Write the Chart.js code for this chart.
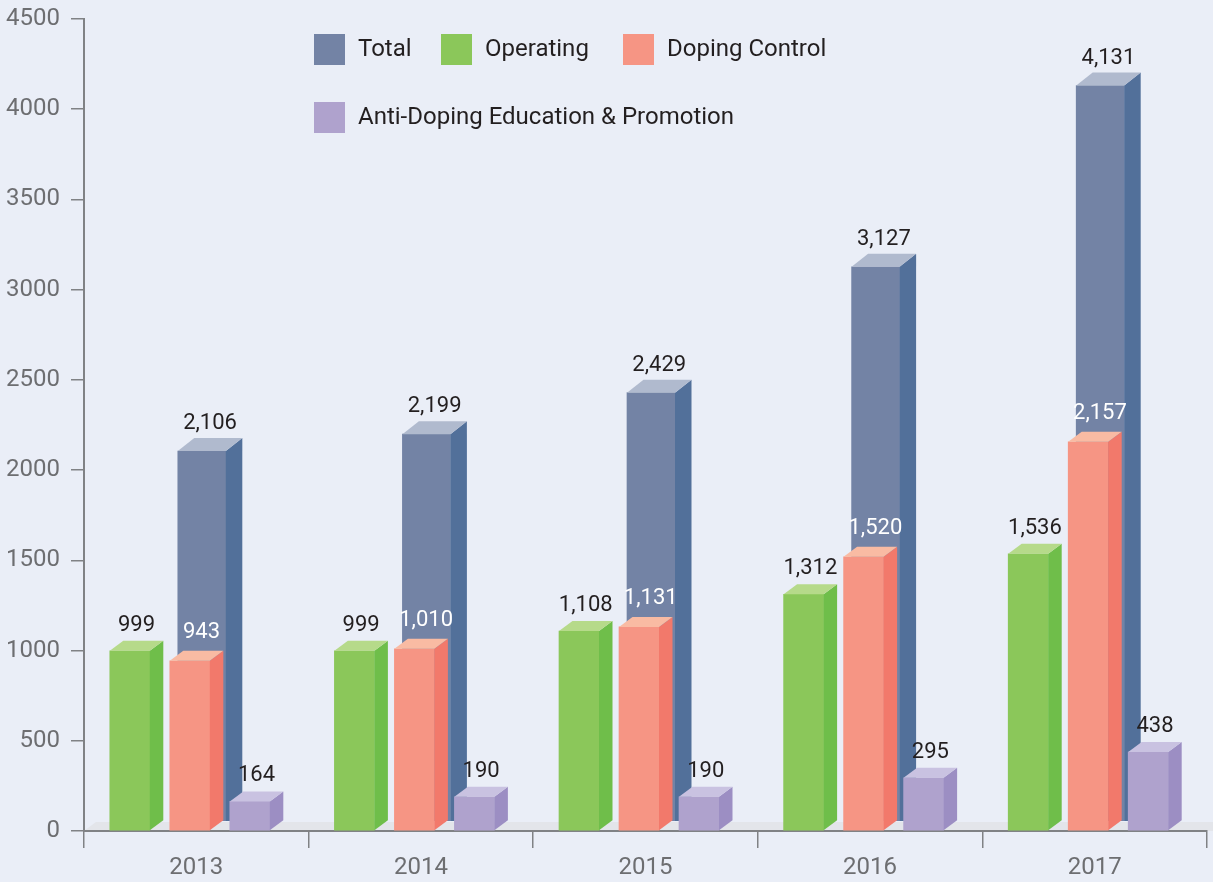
<!DOCTYPE html>
<html>
<head>
<meta charset="utf-8">
<script src="https://cdn.jsdelivr.net/npm/chart.js@4/dist/chart.umd.min.js"></script>
<style>
html,body{margin:0;padding:0;background:#EAEEF7;}
#wrap{position:relative;width:1213px;height:882px;}
canvas{display:block;}
</style>
</head>
<body>
<div id="wrap"><canvas id="c" width="1213" height="882"></canvas></div>
<script>
// ---- data ----
const categories = ['2013', '2014', '2015', '2016', '2017'];
const totalValues = [2106, 2199, 2429, 3127, 4131];
const operatingValues = [999, 999, 1108, 1312, 1536];
const dopingControlValues = [943, 1010, 1131, 1520, 2157];
const educationValues = [164, 190, 190, 295, 438];
const yTickValues = [0, 500, 1000, 1500, 2000, 2500, 3000, 3500, 4000, 4500];
const seriesLabels = ['Total', 'Operating', 'Doping Control', 'Anti-Doping Education & Promotion'];

// ---- styles ----
const FONT = "Roboto, 'DejaVu Sans', sans-serif";
const BG = '#EAEEF7';
const AXIS = '#808285';
const styles = [
  { front: '#7383A5', side: '#52709A', top: '#B0BACE', w: 48, dx: 16.5, dy: 13, shift: 5.5, label: '#231F20', ldx: 0, gap: 9, clipBottom: 10 },
  { front: '#8BC75A', side: '#6FBE4A', top: '#B6DA8A', w: 40, dx: 13.5, dy: 10, shift: -66.5, label: '#231F20', ldx: 0, gap: 10 },
  { front: '#F69584', side: '#F2796B', top: '#F9BBA3', w: 40, dx: 13.5, dy: 10, shift: -6.5, label: '#FFFFFF', ldx: 5, gap: 13 },
  { front: '#AFA2CD', side: '#9C8EC3', top: '#C9C2E1', w: 40, dx: 13.5, dy: 10, shift: 53.5, label: '#231F20', ldx: 0, gap: 10 }
];
const legendItems = [
  { i: 0, x: 314, y: 34 },
  { i: 1, x: 441, y: 34 },
  { i: 2, x: 623, y: 34 },
  { i: 3, x: 314, y: 102 }
];

const bg = {
  id: 'bg',
  beforeDraw(chart) {
    const { ctx, width, height, chartArea, scales } = chart;
    ctx.save();
    ctx.fillStyle = BG;
    ctx.fillRect(0, 0, width, height);
    const y0 = scales.y.getPixelForValue(0);
    ctx.fillStyle = '#E3E5EA';
    ctx.beginPath();
    ctx.moveTo(chartArea.left, y0);
    ctx.lineTo(chartArea.left + 12, y0 - 9);
    ctx.lineTo(width, y0 - 9);
    ctx.lineTo(width, y0);
    ctx.closePath();
    ctx.fill();
    ctx.restore();
  }
};

const bars3d = {
  id: 'bars3d',
  beforeDatasetDraw(chart, args) {
    const s = styles[args.index];
    const ctx = chart.ctx;
    ctx.save();
    if (s.clipBottom) {
      ctx.beginPath();
      ctx.rect(0, 0, chart.width, chart.scales.y.getPixelForValue(0) - s.clipBottom);
      ctx.clip();
    }
    ctx.translate(s.shift, 0);
  },
  afterDatasetDraw(chart, args) {
    const s = styles[args.index];
    const ctx = chart.ctx;
    args.meta.data.forEach(el => {
      const { x, y, base, width } = el.getProps(['x', 'y', 'base', 'width'], true);
      const l = x - width / 2, r = x + width / 2;
      ctx.fillStyle = s.side;
      ctx.beginPath();
      ctx.moveTo(r, y); ctx.lineTo(r + s.dx, y - s.dy); ctx.lineTo(r + s.dx, base - s.dy); ctx.lineTo(r, base);
      ctx.closePath(); ctx.fill();
      ctx.fillStyle = s.top;
      ctx.beginPath();
      ctx.moveTo(l, y); ctx.lineTo(l + s.dx, y - s.dy); ctx.lineTo(r + s.dx, y - s.dy); ctx.lineTo(r, y);
      ctx.closePath(); ctx.fill();
    });
    ctx.restore();
  },
  afterDatasetsDraw(chart) {
    const ctx = chart.ctx;
    ctx.save();
    ctx.font = '22px ' + FONT;
    ctx.textAlign = 'center';
    ctx.textBaseline = 'alphabetic';
    chart.data.datasets.forEach((ds, di) => {
      const s = styles[di];
      const meta = chart.getDatasetMeta(di);
      meta.data.forEach((el, k) => {
        const { x, y } = el.getProps(['x', 'y'], true);
        ctx.fillStyle = s.label;
        ctx.fillText(ds.data[k].toLocaleString('en-US'), x + s.shift + s.dx / 2 + s.ldx, y - s.dy - s.gap);
      });
    });
    ctx.restore();
  },
  afterDraw(chart) {
    const ctx = chart.ctx;
    ctx.save();
    ctx.font = '24px ' + FONT;
    ctx.textAlign = 'left';
    ctx.textBaseline = 'middle';
    legendItems.forEach(it => {
      ctx.fillStyle = styles[it.i].front;
      ctx.fillRect(it.x, it.y, 31, 31);
      ctx.fillStyle = '#231F20';
      ctx.fillText(chart.data.datasets[it.i].label, it.x + 44, it.y + 16);
    });
    ctx.restore();
  }
};

const datasets = [
  { label: seriesLabels[0], data: totalValues, order: 1 },
  { label: seriesLabels[1], data: operatingValues, order: 0 },
  { label: seriesLabels[2], data: dopingControlValues, order: 0 },
  { label: seriesLabels[3], data: educationValues, order: 0 }
].map((d, i) => Object.assign(d, {
  backgroundColor: styles[i].front,
  borderWidth: 0,
  grouped: false,
  barThickness: styles[i].w,
  clip: false
}));

new Chart(document.getElementById('c'), {
  type: 'bar',
  data: { labels: categories, datasets },
  options: {
    responsive: false,
    animation: false,
    devicePixelRatio: 1,
    layout: { padding: { top: 19, right: 6, left: 0, bottom: 0 } },
    plugins: { legend: { display: false }, tooltip: { enabled: false } },
    scales: {
      x: {
        type: 'category',
        offset: true,
        grid: { display: true, drawOnChartArea: false, drawTicks: true, tickLength: 17, color: AXIS, lineWidth: 1.5, offset: true },
        border: { display: true, color: AXIS, width: 2 },
        ticks: { font: { family: FONT, size: 24 }, color: '#6D6E71', padding: 6 },
        afterFit(s) { s.height = 51; s.paddingLeft = 0; s.paddingRight = 0; }
      },
      y: {
        min: 0,
        max: 4500,
        afterBuildTicks(s) { s.ticks = yTickValues.map(v => ({ value: v })); },
        grid: { display: true, drawOnChartArea: false, drawTicks: true, tickLength: 13, color: AXIS, lineWidth: 1.5 },
        border: { display: true, color: AXIS, width: 2 },
        ticks: { font: { family: FONT, size: 24 }, color: '#6D6E71', padding: 11, callback: v => String(v) },
        afterFit(s) { s.width = 84; s.paddingTop = 0; s.paddingBottom = 0; }
      }
    }
  },
  plugins: [bg, bars3d]
});
</script>
</body>
</html>
